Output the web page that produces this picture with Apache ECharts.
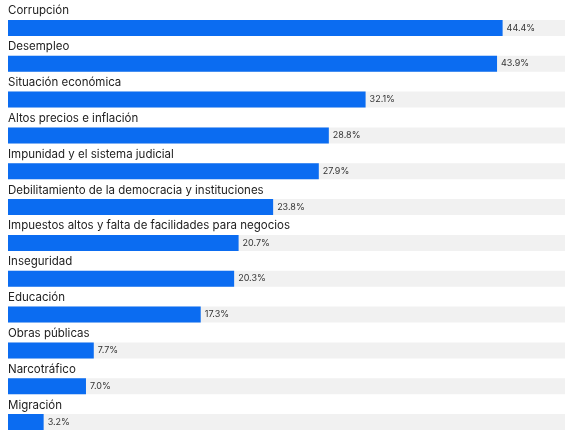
<!DOCTYPE html>
<html>
<head>
<meta charset="utf-8" />
<script src="https://cdn.jsdelivr.net/npm/echarts@6/dist/echarts.min.js"></script>
<style>
  * { margin: 0; padding: 0; }
  html, body, #chart { width: 570px; height: 440px; overflow: hidden; background: #fff; }
</style>
</head>
<body>
<div id="chart"></div>
<script>
  var categories = [
    "Corrupción", "Desempleo", "Situación económica", "Altos precios e inflación",
    "Impunidad y el sistema judicial", "Debilitamiento de la democracia y instituciones",
    "Impuestos altos y falta de facilidades para negocios", "Inseguridad", "Educación",
    "Obras públicas", "Narcotráfico", "Migración"
  ];
  var values = [44.4, 43.9, 32.1, 28.8, 27.9, 23.8, 20.7, 20.3, 17.3, 7.7, 7.0, 3.2];
  var axisMax = 50;

  var chart = echarts.init(document.getElementById("chart"));
  chart.setOption({
    animation: false,
    grid: { left: 8, right: 5, top: 10, bottom: -12 },
    xAxis: { type: "value", min: 0, max: axisMax, show: false },
    yAxis: { type: "category", data: categories, inverse: true, show: false },
    series: [
      {
        type: "bar",
        data: values,
        barWidth: 16,
        itemStyle: { color: "#0b6cf1" },
        showBackground: true,
        backgroundStyle: { color: "#f1f1f1" },
        label: {
          show: true,
          position: "right",
          distance: 4,
          formatter: function (p) { return p.value.toFixed(1) + "%"; },
          color: "#333",
          fontSize: 9,
          fontFamily: "Inter"
        },
        z: 2
      },
      {
        type: "bar",
        data: categories.map(function () { return axisMax; }),
        barWidth: 16,
        barGap: "-100%",
        silent: true,
        itemStyle: { color: "transparent" },
        label: {
          show: true,
          position: [0, -15],
          formatter: function (p) { return p.name; },
          color: "#222",
          fontSize: 11.5,
          fontFamily: "Inter"
        },
        z: 3
      }
    ]
  });
</script>
</body>
</html>
